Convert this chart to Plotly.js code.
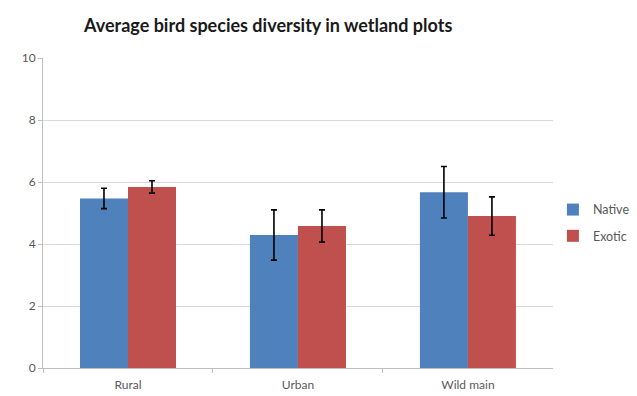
<!DOCTYPE html>
<html>
<head>
<meta charset="utf-8">
<script src="https://cdn.plot.ly/plotly-3.0.1.min.js"></script>
<style>html,body{margin:0;padding:0;background:#fff;}#chart{width:637px;height:396px;}</style>
</head>
<body>
<div id="chart"></div>
<script>
const categories = ["Rural", "Urban", "Wild main"];
const nativeValues = [5.47, 4.29, 5.67];
const nativeErrors = [0.33, 0.81, 0.83];
const exoticValues = [5.84, 4.58, 4.90];
const exoticErrors = [0.20, 0.52, 0.62];
const yTicks = [0, 2, 4, 6, 8, 10];

const errStyle = {type: "data", visible: true, color: "#000000", thickness: 1.6, width: 3};

const traces = [
  {type: "bar", name: "Native", x: categories, y: nativeValues, legendgroup: "n",
   marker: {color: "#4F81BD"},
   error_y: Object.assign({array: nativeErrors}, errStyle)},
  {type: "bar", name: "Exotic", x: categories, y: exoticValues, legendgroup: "e",
   marker: {color: "#C0504D"},
   error_y: Object.assign({array: exoticErrors}, errStyle)}
];

const layout = {
  width: 637, height: 396,
  margin: {l: 43, r: 84, t: 58, b: 28},
  paper_bgcolor: "#ffffff", plot_bgcolor: "#ffffff",
  font: {family: "Lato, 'Liberation Sans', sans-serif", color: "#595959", size: 12},
  title: {text: "<b>Average bird species diversity in wetland plots</b>",
          font: {family: "Lato, 'Liberation Sans', sans-serif", size: 18, color: "#1a1a1a"},
          x: 0.421, xref: "container", xanchor: "center", y: 0.935, yanchor: "middle"},
  barmode: "group", bargap: 0.435, bargroupgap: 0,
  showlegend: true,
  legend: {xref: "container", yref: "container", x: 0.868, xanchor: "left", y: 0.437, yanchor: "middle",
           font: {size: 12.5, color: "#595959"}, tracegroupgap: 7, itemwidth: 30},
  xaxis: {type: "category", showline: true, linecolor: "#bfbfbf", linewidth: 1,
          ticks: "outside", tickson: "boundaries", ticklen: 4, tickcolor: "#bfbfbf",
          ticklabelstandoff: 6,
          showgrid: false, tickfont: {size: 12, color: "#595959"}},
  yaxis: {range: [0, 10], tickvals: yTicks, ticktext: yTicks.map(String),
          showline: true, linecolor: "#bfbfbf", linewidth: 1,
          ticks: "outside", ticklen: 4, tickcolor: "#bfbfbf",
          showgrid: true, gridcolor: "#d9d9d9", gridwidth: 1, zeroline: false,
          tickfont: {size: 12, color: "#595959"}}
};

Plotly.newPlot("chart", traces, layout, {displayModeBar: false, staticPlot: true});
</script>
</body>
</html>
